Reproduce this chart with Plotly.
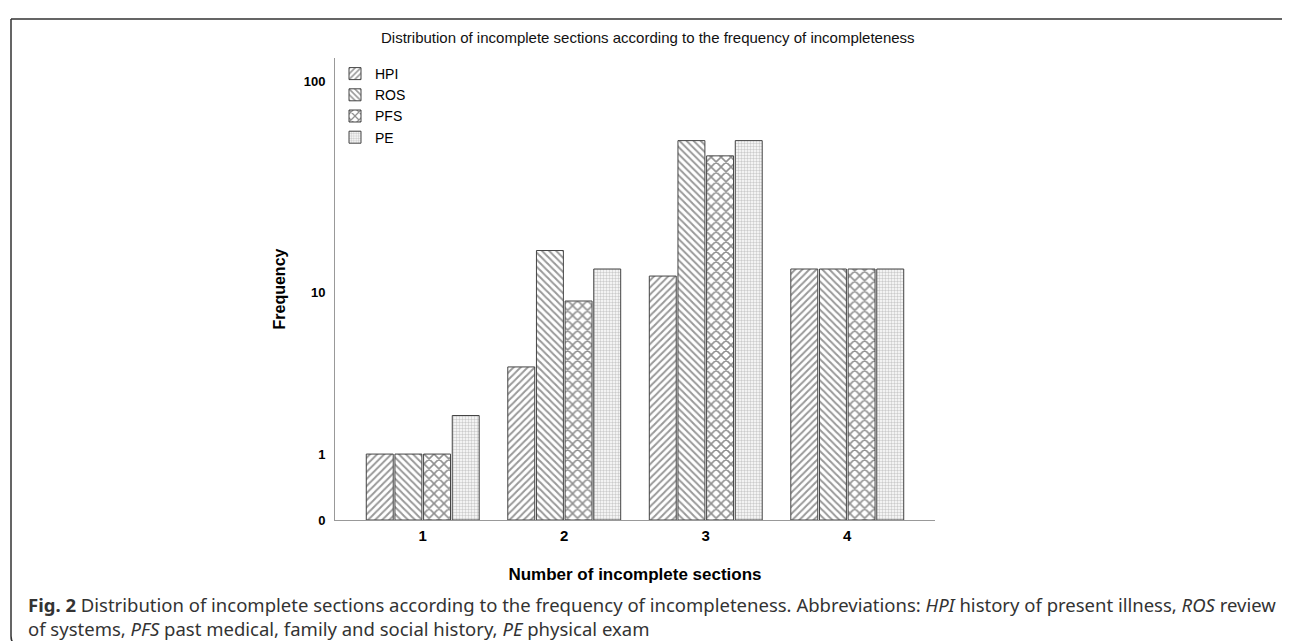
import math
import plotly.graph_objects as go

# ---- data ----
categories = [1, 2, 3, 4]
hpi = [1, 4, 12, 13]
ros = [1, 16, 53, 13]
pfs = [1, 9, 45, 13]
pe = [2, 13, 53, 13]
series_names = ["HPI", "ROS", "PFS", "PE"]
y_tick_labels = [0, 1, 10, 100]

W, H = 1290, 641
L, R, T, B = 327, 363, 50, 129
plot_w = W - L - R
plot_h = H - T - B


def safelog(v):
    return math.log10(v + 1)


def px_x(p):
    return (p - L) / plot_w


def px_y(p):
    return (H - B - p) / plot_h


patterns = {
    "HPI": dict(shape="/", fgcolor="#333", bgcolor="white", size=5, solidity=0.4),
    "ROS": dict(shape="\\", fgcolor="#333", bgcolor="white", size=5, solidity=0.4),
    "PFS": dict(shape="x", fgcolor="#222", bgcolor="white", size=7, solidity=0.4),
    "PE": dict(shape=".", fgcolor="#999", bgcolor="white", size=3, solidity=0.5),
}

fig = go.Figure()
for name, vals in zip(series_names, [hpi, ros, pfs, pe]):
    fig.add_trace(go.Bar(
        name=name,
        x=categories,
        y=[safelog(v) for v in vals],
        customdata=vals,
        hovertemplate=name + ": %{customdata}<extra></extra>",
        marker=dict(color="white", pattern=patterns[name],
                    line=dict(color="#444", width=1)),
    ))

y_top = plot_h / 219.0

fig.update_layout(
    width=W, height=H,
    margin=dict(l=L, r=R, t=T, b=B, pad=0),
    paper_bgcolor="white", plot_bgcolor="white",
    barmode="group", bargap=0.19, bargroupgap=0.06,
    font=dict(family="Liberation Sans, Arial", color="black"),
    showlegend=True,
    legend=dict(x=0.0, y=1.0, xanchor="left", yanchor="top",
                font=dict(size=14, family="Liberation Sans, Arial"),
                bgcolor="rgba(0,0,0,0)", tracegroupgap=0,
                itemwidth=30),
    xaxis=dict(range=[0.38, 4.62], tickvals=categories,
               ticktext=["<b>%d</b>" % c for c in categories],
               showline=True, linecolor="#999", linewidth=1,
               showgrid=False, zeroline=False, ticks="",
               ticklabelstandoff=2,
               tickfont=dict(size=15, family="Liberation Sans, Arial"),
               title=dict(text="<b>Number of incomplete sections</b>",
                          font=dict(size=17), standoff=25)),
    yaxis=dict(range=[0, y_top],
               tickvals=[safelog(t) for t in y_tick_labels],
               ticktext=["<b>%d</b>" % t for t in y_tick_labels],
               showline=True, linecolor="#999", linewidth=1,
               showgrid=False, zeroline=False, ticks="",
               ticklabelstandoff=6,
               tickfont=dict(size=13, family="Liberation Sans, Arial"),
               title=dict(text="<b>Frequency</b>", font=dict(size=16),
                          standoff=14)),
)

# ---- chart title ----
fig.add_annotation(
    text="Distribution of incomplete sections according to the frequency of incompleteness",
    xref="paper", yref="paper", x=px_x(640), y=px_y(30),
    showarrow=False, font=dict(size=15, family="Liberation Sans, Arial", color="#111"),
    xanchor="center", yanchor="middle",
)

# ---- caption ----
caption = ("<b>Fig. 2</b> Distribution of incomplete sections according to the frequency of "
           "incompleteness. Abbreviations: <i>HPI</i> history of present illness, <i>ROS</i> review<br>"
           "of systems, <i>PFS</i> past medical, family and social history, <i>PE</i> physical exam")
fig.add_annotation(text=caption, xref="paper", yref="paper", x=px_x(19), y=px_y(583),
                   xanchor="left", yanchor="top", align="left", showarrow=False,
                   borderpad=0,
                   font=dict(size=18.5, family="Noto Sans", color="#333"))

# ---- rounded frame ----
x0, x1, y0, y1, r = 3, 1285, 11, 638, 10
path = (f"M {px_x(x0)},{px_y(y0)} L {px_x(x1 - r)},{px_y(y0)} "
        f"Q {px_x(x1)},{px_y(y0)} {px_x(x1)},{px_y(y0 + r)} "
        f"L {px_x(x1)},{px_y(y1 - r)} Q {px_x(x1)},{px_y(y1)} {px_x(x1 - r)},{px_y(y1)} "
        f"L {px_x(x0 + r)},{px_y(y1)} Q {px_x(x0)},{px_y(y1)} {px_x(x0)},{px_y(y1 - r)} "
        f"L {px_x(x0)},{px_y(y0)}")
fig.add_shape(type="path", xref="paper", yref="paper", path=path,
              line=dict(color="#333", width=1.5), layer="below")

fig.write_html("out.html")
